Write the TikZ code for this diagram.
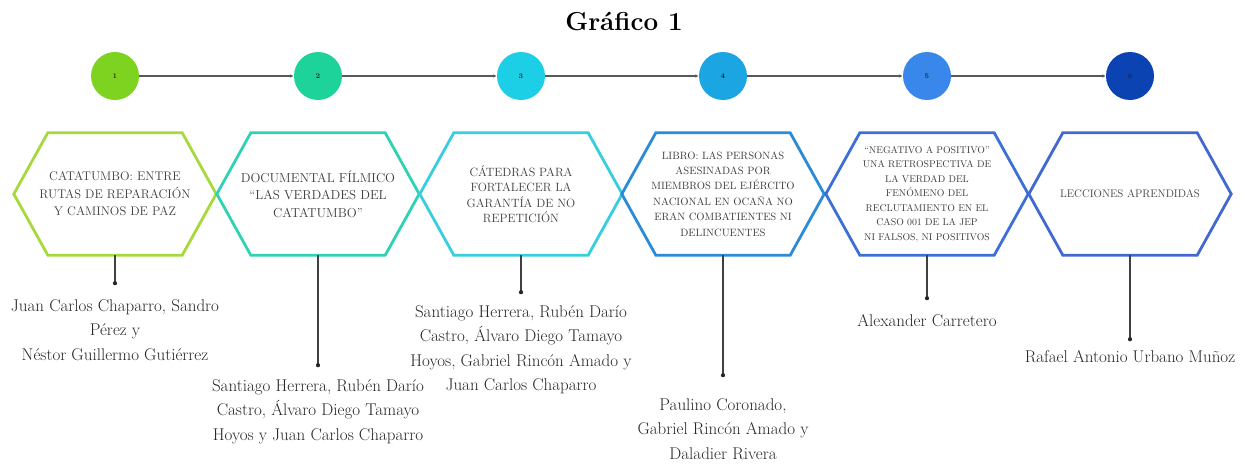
\documentclass[tikz,border=0pt]{standalone}
\usepackage{tikz}
\usetikzlibrary{arrows.meta, positioning}

\definecolor{ball1}{HTML}{7ED321}
\definecolor{ball2}{HTML}{1DD39A}
\definecolor{ball3}{HTML}{1CCFE6}
\definecolor{ball4}{HTML}{1BA6E3}
\definecolor{ball5}{HTML}{3A87EC}
\definecolor{ball6}{HTML}{0B43B3}
\definecolor{hex1}{HTML}{A5DA3A}
\definecolor{hex2}{HTML}{2FD3B3}
\definecolor{hex3}{HTML}{38CEE0}
\definecolor{hex4}{HTML}{2B8BD6}
\definecolor{hex5}{HTML}{3D6FD6}
\definecolor{hex6}{HTML}{4169CF}

\begin{document}
\begin{tikzpicture}[x=1pt, y=-1pt]
      \useasboundingbox (0,0) rectangle (1244,463);

      \node[font=\bfseries\fontsize{26}{30}\selectfont] (title) at (624,22) {Gráfico 1};

      {\tikzstyle{every node}=[circle, minimum size=48pt, inner sep=0pt, text=black!85,
          font=\bfseries\fontsize{7}{7}\selectfont]
        \foreach \i/\x in {1/115, 2/318, 3/521, 4/723, 5/927, 6/1130}
        {
          \node[fill=ball\i] (c\i) at (\x,76) {\i};
        }
      }

      \foreach \i/\j in {1/2, 2/3, 3/4, 4/5, 5/6}
      {
        \draw[-{Latex[length=3.5pt,width=3.5pt]}, line width=1.4pt, black!65] (c\i) -- (c\j);
      }

      {\tikzstyle{every node}=[rectangle, minimum width=202pt, minimum height=122pt,
          inner sep=0pt, align=center, text=black!76]
        \foreach \i/\x/\fs/\ls/\txt in {
            1/115/12.5/17.5/{CATATUMBO: ENTRE\\RUTAS DE REPARACIÓN\\Y CAMINOS DE PAZ},
            2/318/13/17.5/{DOCUMENTAL FÍLMICO\\“LAS VERDADES DEL\\CATATUMBO”},
            3/521/12/15.5/{CÁTEDRAS PARA\\FORTALECER LA\\GARANTÍA DE NO\\REPETICIÓN},
            4/723/10.6/15.4/{LIBRO: LAS PERSONAS\\ASESINADAS POR\\MIEMBROS DEL EJÉRCITO\\NACIONAL EN OCAÑA NO\\ERAN COMBATIENTES NI\\DELINCUENTES},
            5/927/9.8/14.5/{“NEGATIVO A POSITIVO”\\UNA RETROSPECTIVA DE\\LA VERDAD DEL\\FENÓMENO DEL\\RECLUTAMIENTO EN EL\\CASO 001 DE LA JEP\\NI FALSOS, NI POSITIVOS},
            6/1130/11/14/{LECCIONES APRENDIDAS}}
        {
          \node[font=\fontsize{\fs}{\ls}\selectfont] (h\i) at (\x,194) {\txt};
          \draw[hex\i, line width=2.8pt]
            (h\i.west) -- ([xshift=34pt]h\i.north west) -- ([xshift=-34pt]h\i.north east)
            -- (h\i.east) -- ([xshift=-34pt]h\i.south east) -- ([xshift=34pt]h\i.south west)
            -- cycle;
        }
      }

      \foreach \i/\d in {1/28, 2/110, 3/37, 4/120, 5/43, 6/84}
      {
        \path (h\i.south) ++(0,\d) coordinate (d\i);
        \draw[black!75, line width=1.1pt] (h\i.south) -- (d\i);
        \fill[black!85] (d\i) circle (2.1pt);
      }

      {\tikzstyle{every node}=[align=center, inner sep=0pt, text=black!85,
          font=\fontsize{17}{24.5}\selectfont]
        \node[below=16pt of d1] (n1) {Juan Carlos Chaparro, Sandro\\Pérez y\\Néstor Guillermo Gutiérrez};
        \node[below=14pt of d2] (n2) {Santiago Herrera, Rubén Darío\\Castro, Álvaro Diego Tamayo\\Hoyos y Juan Carlos Chaparro};
        \node[below=13pt of d3] (n3) {Santiago Herrera, Rubén Darío\\Castro, Álvaro Diego Tamayo\\Hoyos, Gabriel Rincón Amado y\\Juan Carlos Chaparro};
        \node[below=23pt of d4] (n4) {Paulino Coronado,\\Gabriel Rincón Amado y\\Daladier Rivera};
        \node[below=16pt of d5] (n5) {Alexander Carretero};
        \node[below=11pt of d6] (n6) {Rafael Antonio Urbano Muñoz};
      }
    \end{tikzpicture}
\end{document}
